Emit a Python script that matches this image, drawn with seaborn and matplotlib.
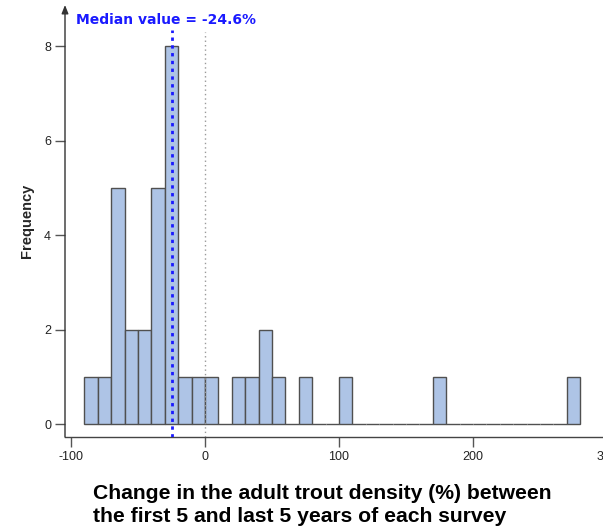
import matplotlib
matplotlib.use("Agg")
import matplotlib.pyplot as plt
import seaborn as sns
import numpy as np

# Histogram of percent change, 10-point bins
bin_edges = list(range(-90, 290, 10))
bin_counts = [1, 1, 5, 2, 2, 5, 8, 1, 1, 1, 0, 1, 1, 2, 1, 0, 1, 0, 0, 1,
              0, 0, 0, 0, 0, 0, 1, 0, 0, 0, 0, 0, 0, 0, 0, 0, 1]
median_value = -24.6
x_ticks = [-100, 0, 100, 200, 300]
y_ticks = [0, 2, 4, 6, 8]

sns.set_style("white")
plt.rcParams["font.family"] = ["Liberation Sans", "DejaVu Sans"]

fig = plt.figure(figsize=(6.03, 5.28), dpi=100)
ax = fig.add_axes([65 / 603, 91 / 528, 542 / 603, 432 / 528])

centers = [e + 5 for e in bin_edges[:-1]]
sns.histplot(x=centers, weights=bin_counts, bins=bin_edges, ax=ax,
             color="#aec4e6", edgecolor="#505050", linewidth=1.0, alpha=1.0)

ax.set_xlim(-104.5, 300)
ax.set_ylim(-0.275, 8.87)

ax.vlines(0, -0.275, 8.3, colors="#9a9a9a", linestyles=(0, (1, 2.2)), linewidth=1.0, zorder=3)
ax.vlines(median_value, -0.275, 8.34, colors="#1a1aff", linestyles=(0, (1.2, 1.6)), linewidth=2.0, zorder=4)
ax.text(-96.3, 8.55, f"Median value = {median_value}%", color="#1a1aff",
        fontsize=10, fontweight="bold", family="DejaVu Sans", va="center", ha="left")

for side in ["top", "right"]:
    ax.spines[side].set_visible(False)
ax.spines["left"].set_visible(False)
ax.spines["bottom"].set_color("#444444")
ax.spines["bottom"].set_linewidth(1.0)

# y axis drawn as an arrow
ax.annotate("", xy=(0, 1.0), xytext=(0, 0), xycoords="axes fraction",
            arrowprops=dict(arrowstyle="-|>,head_length=0.5,head_width=0.2",
                            color="#333333", lw=1.0, shrinkA=0, shrinkB=0))

ax.set_xticks(x_ticks)
ax.set_yticks(y_ticks)
ax.set_xticklabels([str(t) for t in x_ticks])
ax.set_yticklabels([str(t) for t in y_ticks])
ax.tick_params(axis="both", which="both", direction="out", length=7, width=1.0,
               color="#555555", labelsize=9, labelcolor="#222222", pad=3,
               bottom=True, left=True)

ax.set_ylabel("Frequency", fontsize=10.5, fontweight="bold", labelpad=7)
ax.set_xlabel("")
fig.text(93 / 603, 1 - 505 / 528,
         "Change in the adult trout density (%) between\nthe first 5 and last 5 years of each survey",
         fontsize=15.2, fontweight="bold", ha="left", va="center", linespacing=1.3,
         color="black")

fig.savefig("out.png", dpi=100)
